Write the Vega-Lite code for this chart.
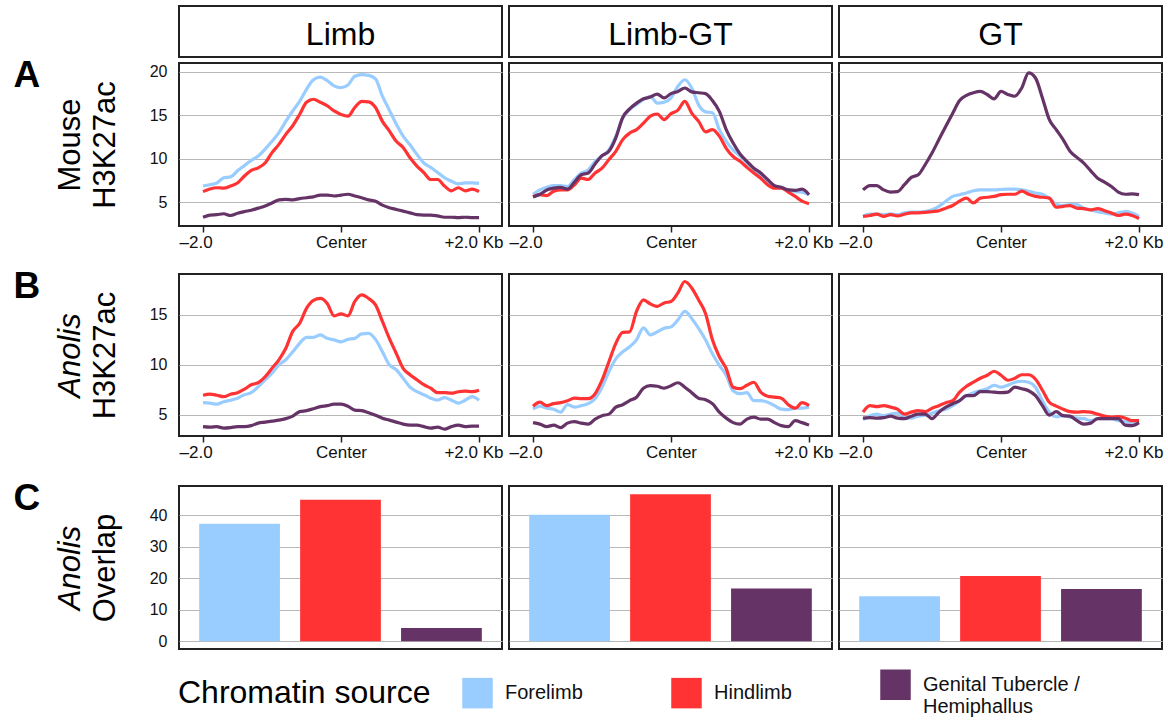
{
"$schema": "https://vega.github.io/schema/vega-lite/v6.json",
"padding": {"left": 12, "top": 5, "right": 5, "bottom": 5},
"columns": 3,
"align": "each",
"spacing": {"row": -2, "column": 3},
"config": {
  "font": "Liberation Sans",
  "view": {"stroke": "#222", "strokeWidth": 2},
  "axis": {"gridColor": "#b8b8b8", "gridWidth": 1.2, "labelColor": "#111", "titleColor": "#000", "titleFontWeight": "normal", "labelFontSize": 16},
  "text": {"color": "#000"}
},
"datasets": {
"bars": [
{"p":"Limb","s":"F","v":37.3},{"p":"Limb","s":"H","v":44.9},{"p":"Limb","s":"G","v":4.2},
{"p":"Limb-GT","s":"F","v":40.2},{"p":"Limb-GT","s":"H","v":46.7},{"p":"Limb-GT","s":"G","v":16.75},
{"p":"GT","s":"F","v":14.3},{"p":"GT","s":"H","v":20.7},{"p":"GT","s":"G","v":16.6}
],
"lines": [
{"p":"A1","s":"F","x":-2,"y":6.85},{"p":"A1","s":"F","x":-1.9,"y":7.0},{"p":"A1","s":"F","x":-1.8,"y":7.2},{"p":"A1","s":"F","x":-1.7,"y":7.8},{"p":"A1","s":"F","x":-1.6,"y":7.9},{"p":"A1","s":"F","x":-1.5,"y":8.6},{"p":"A1","s":"F","x":-1.4,"y":9.2},{"p":"A1","s":"F","x":-1.3,"y":9.8},{"p":"A1","s":"F","x":-1.2,"y":10.3},{"p":"A1","s":"F","x":-1.1,"y":11.1},{"p":"A1","s":"F","x":-1,"y":12.0},{"p":"A1","s":"F","x":-0.9,"y":13.0},{"p":"A1","s":"F","x":-0.8,"y":14.3},{"p":"A1","s":"F","x":-0.7,"y":15.5},{"p":"A1","s":"F","x":-0.6,"y":16.6},{"p":"A1","s":"F","x":-0.5,"y":18.0},{"p":"A1","s":"F","x":-0.4,"y":19.1},{"p":"A1","s":"F","x":-0.3,"y":19.4},{"p":"A1","s":"F","x":-0.2,"y":19.0},{"p":"A1","s":"F","x":-0.1,"y":18.4},{"p":"A1","s":"F","x":0,"y":18.2},{"p":"A1","s":"F","x":0.1,"y":18.5},{"p":"A1","s":"F","x":0.2,"y":19.5},{"p":"A1","s":"F","x":0.3,"y":19.7},{"p":"A1","s":"F","x":0.4,"y":19.6},{"p":"A1","s":"F","x":0.5,"y":19.2},{"p":"A1","s":"F","x":0.6,"y":17.2},{"p":"A1","s":"F","x":0.7,"y":15.6},{"p":"A1","s":"F","x":0.8,"y":14.0},{"p":"A1","s":"F","x":0.9,"y":12.6},{"p":"A1","s":"F","x":1,"y":11.6},{"p":"A1","s":"F","x":1.1,"y":10.5},{"p":"A1","s":"F","x":1.2,"y":9.5},{"p":"A1","s":"F","x":1.3,"y":9.0},{"p":"A1","s":"F","x":1.4,"y":8.4},{"p":"A1","s":"F","x":1.5,"y":7.8},{"p":"A1","s":"F","x":1.6,"y":7.4},{"p":"A1","s":"F","x":1.7,"y":7.1},{"p":"A1","s":"F","x":1.8,"y":7.2},{"p":"A1","s":"F","x":1.9,"y":7.2},{"p":"A1","s":"F","x":2,"y":7.15},
{"p":"A1","s":"H","x":-2,"y":6.2},{"p":"A1","s":"H","x":-1.9,"y":6.5},{"p":"A1","s":"H","x":-1.8,"y":6.65},{"p":"A1","s":"H","x":-1.7,"y":6.6},{"p":"A1","s":"H","x":-1.6,"y":6.85},{"p":"A1","s":"H","x":-1.5,"y":7.2},{"p":"A1","s":"H","x":-1.4,"y":8.0},{"p":"A1","s":"H","x":-1.3,"y":8.65},{"p":"A1","s":"H","x":-1.2,"y":8.95},{"p":"A1","s":"H","x":-1.1,"y":9.5},{"p":"A1","s":"H","x":-1,"y":10.7},{"p":"A1","s":"H","x":-0.9,"y":11.65},{"p":"A1","s":"H","x":-0.8,"y":12.8},{"p":"A1","s":"H","x":-0.7,"y":13.8},{"p":"A1","s":"H","x":-0.6,"y":15.1},{"p":"A1","s":"H","x":-0.5,"y":16.5},{"p":"A1","s":"H","x":-0.4,"y":16.85},{"p":"A1","s":"H","x":-0.3,"y":16.5},{"p":"A1","s":"H","x":-0.2,"y":16.1},{"p":"A1","s":"H","x":-0.1,"y":15.5},{"p":"A1","s":"H","x":0,"y":15.1},{"p":"A1","s":"H","x":0.1,"y":14.9},{"p":"A1","s":"H","x":0.2,"y":15.9},{"p":"A1","s":"H","x":0.3,"y":16.6},{"p":"A1","s":"H","x":0.4,"y":16.55},{"p":"A1","s":"H","x":0.5,"y":15.9},{"p":"A1","s":"H","x":0.6,"y":14.3},{"p":"A1","s":"H","x":0.7,"y":13.2},{"p":"A1","s":"H","x":0.8,"y":12.0},{"p":"A1","s":"H","x":0.9,"y":11.3},{"p":"A1","s":"H","x":1,"y":10.1},{"p":"A1","s":"H","x":1.1,"y":9.15},{"p":"A1","s":"H","x":1.2,"y":8.4},{"p":"A1","s":"H","x":1.3,"y":7.6},{"p":"A1","s":"H","x":1.4,"y":7.6},{"p":"A1","s":"H","x":1.5,"y":6.85},{"p":"A1","s":"H","x":1.6,"y":6.3},{"p":"A1","s":"H","x":1.7,"y":6.65},{"p":"A1","s":"H","x":1.8,"y":6.3},{"p":"A1","s":"H","x":1.9,"y":6.5},{"p":"A1","s":"H","x":2,"y":6.2},
{"p":"A1","s":"G","x":-2,"y":3.25},{"p":"A1","s":"G","x":-1.9,"y":3.5},{"p":"A1","s":"G","x":-1.8,"y":3.55},{"p":"A1","s":"G","x":-1.7,"y":3.65},{"p":"A1","s":"G","x":-1.6,"y":3.45},{"p":"A1","s":"G","x":-1.5,"y":3.7},{"p":"A1","s":"G","x":-1.4,"y":3.9},{"p":"A1","s":"G","x":-1.3,"y":4.05},{"p":"A1","s":"G","x":-1.2,"y":4.3},{"p":"A1","s":"G","x":-1.1,"y":4.55},{"p":"A1","s":"G","x":-1,"y":4.9},{"p":"A1","s":"G","x":-0.9,"y":5.25},{"p":"A1","s":"G","x":-0.8,"y":5.3},{"p":"A1","s":"G","x":-0.7,"y":5.25},{"p":"A1","s":"G","x":-0.6,"y":5.4},{"p":"A1","s":"G","x":-0.5,"y":5.5},{"p":"A1","s":"G","x":-0.4,"y":5.6},{"p":"A1","s":"G","x":-0.3,"y":5.8},{"p":"A1","s":"G","x":-0.2,"y":5.8},{"p":"A1","s":"G","x":-0.1,"y":5.7},{"p":"A1","s":"G","x":0,"y":5.8},{"p":"A1","s":"G","x":0.1,"y":5.9},{"p":"A1","s":"G","x":0.2,"y":5.7},{"p":"A1","s":"G","x":0.3,"y":5.5},{"p":"A1","s":"G","x":0.4,"y":5.25},{"p":"A1","s":"G","x":0.5,"y":5.1},{"p":"A1","s":"G","x":0.6,"y":4.65},{"p":"A1","s":"G","x":0.7,"y":4.35},{"p":"A1","s":"G","x":0.8,"y":4.15},{"p":"A1","s":"G","x":0.9,"y":3.95},{"p":"A1","s":"G","x":1,"y":3.75},{"p":"A1","s":"G","x":1.1,"y":3.55},{"p":"A1","s":"G","x":1.2,"y":3.5},{"p":"A1","s":"G","x":1.3,"y":3.5},{"p":"A1","s":"G","x":1.4,"y":3.4},{"p":"A1","s":"G","x":1.5,"y":3.25},{"p":"A1","s":"G","x":1.6,"y":3.25},{"p":"A1","s":"G","x":1.7,"y":3.2},{"p":"A1","s":"G","x":1.8,"y":3.25},{"p":"A1","s":"G","x":1.9,"y":3.2},{"p":"A1","s":"G","x":2,"y":3.2},
{"p":"A2","s":"F","x":-2,"y":5.9},{"p":"A2","s":"F","x":-1.9,"y":6.4},{"p":"A2","s":"F","x":-1.8,"y":6.7},{"p":"A2","s":"F","x":-1.7,"y":6.9},{"p":"A2","s":"F","x":-1.6,"y":6.9},{"p":"A2","s":"F","x":-1.5,"y":6.8},{"p":"A2","s":"F","x":-1.4,"y":7.6},{"p":"A2","s":"F","x":-1.3,"y":8.35},{"p":"A2","s":"F","x":-1.2,"y":8.7},{"p":"A2","s":"F","x":-1.1,"y":9.7},{"p":"A2","s":"F","x":-1,"y":10.3},{"p":"A2","s":"F","x":-0.9,"y":11.0},{"p":"A2","s":"F","x":-0.8,"y":12.6},{"p":"A2","s":"F","x":-0.7,"y":14.7},{"p":"A2","s":"F","x":-0.6,"y":15.65},{"p":"A2","s":"F","x":-0.5,"y":16.25},{"p":"A2","s":"F","x":-0.4,"y":16.8},{"p":"A2","s":"F","x":-0.3,"y":17.2},{"p":"A2","s":"F","x":-0.2,"y":16.4},{"p":"A2","s":"F","x":-0.1,"y":16.5},{"p":"A2","s":"F","x":0,"y":17.0},{"p":"A2","s":"F","x":0.1,"y":18.35},{"p":"A2","s":"F","x":0.2,"y":19.1},{"p":"A2","s":"F","x":0.3,"y":18.15},{"p":"A2","s":"F","x":0.4,"y":16.2},{"p":"A2","s":"F","x":0.5,"y":15.4},{"p":"A2","s":"F","x":0.6,"y":15.3},{"p":"A2","s":"F","x":0.7,"y":13.35},{"p":"A2","s":"F","x":0.8,"y":12.0},{"p":"A2","s":"F","x":0.9,"y":11.0},{"p":"A2","s":"F","x":1,"y":10.3},{"p":"A2","s":"F","x":1.1,"y":9.5},{"p":"A2","s":"F","x":1.2,"y":8.7},{"p":"A2","s":"F","x":1.3,"y":8.0},{"p":"A2","s":"F","x":1.4,"y":7.3},{"p":"A2","s":"F","x":1.5,"y":6.8},{"p":"A2","s":"F","x":1.6,"y":6.6},{"p":"A2","s":"F","x":1.7,"y":6.4},{"p":"A2","s":"F","x":1.8,"y":6.2},{"p":"A2","s":"F","x":1.9,"y":6.15},{"p":"A2","s":"F","x":2,"y":5.85},
{"p":"A2","s":"H","x":-2,"y":5.6},{"p":"A2","s":"H","x":-1.9,"y":5.85},{"p":"A2","s":"H","x":-1.8,"y":5.75},{"p":"A2","s":"H","x":-1.7,"y":6.25},{"p":"A2","s":"H","x":-1.6,"y":6.4},{"p":"A2","s":"H","x":-1.5,"y":6.4},{"p":"A2","s":"H","x":-1.4,"y":7.0},{"p":"A2","s":"H","x":-1.3,"y":7.75},{"p":"A2","s":"H","x":-1.2,"y":7.6},{"p":"A2","s":"H","x":-1.1,"y":8.35},{"p":"A2","s":"H","x":-1,"y":8.9},{"p":"A2","s":"H","x":-0.9,"y":9.9},{"p":"A2","s":"H","x":-0.8,"y":10.85},{"p":"A2","s":"H","x":-0.7,"y":12.2},{"p":"A2","s":"H","x":-0.6,"y":12.95},{"p":"A2","s":"H","x":-0.5,"y":13.35},{"p":"A2","s":"H","x":-0.4,"y":14.1},{"p":"A2","s":"H","x":-0.3,"y":14.9},{"p":"A2","s":"H","x":-0.2,"y":15.15},{"p":"A2","s":"H","x":-0.1,"y":14.5},{"p":"A2","s":"H","x":0,"y":15.2},{"p":"A2","s":"H","x":0.1,"y":15.6},{"p":"A2","s":"H","x":0.2,"y":16.6},{"p":"A2","s":"H","x":0.3,"y":15.25},{"p":"A2","s":"H","x":0.4,"y":14.3},{"p":"A2","s":"H","x":0.5,"y":13.1},{"p":"A2","s":"H","x":0.6,"y":13.35},{"p":"A2","s":"H","x":0.7,"y":12.6},{"p":"A2","s":"H","x":0.8,"y":11.2},{"p":"A2","s":"H","x":0.9,"y":10.25},{"p":"A2","s":"H","x":1,"y":9.7},{"p":"A2","s":"H","x":1.1,"y":9.0},{"p":"A2","s":"H","x":1.2,"y":8.35},{"p":"A2","s":"H","x":1.3,"y":7.75},{"p":"A2","s":"H","x":1.4,"y":7.0},{"p":"A2","s":"H","x":1.5,"y":6.6},{"p":"A2","s":"H","x":1.6,"y":6.6},{"p":"A2","s":"H","x":1.7,"y":6.15},{"p":"A2","s":"H","x":1.8,"y":5.65},{"p":"A2","s":"H","x":1.9,"y":5.1},{"p":"A2","s":"H","x":2,"y":4.8},
{"p":"A2","s":"G","x":-2,"y":5.6},{"p":"A2","s":"G","x":-1.9,"y":5.9},{"p":"A2","s":"G","x":-1.8,"y":6.4},{"p":"A2","s":"G","x":-1.7,"y":6.6},{"p":"A2","s":"G","x":-1.6,"y":6.7},{"p":"A2","s":"G","x":-1.5,"y":6.5},{"p":"A2","s":"G","x":-1.4,"y":7.3},{"p":"A2","s":"G","x":-1.3,"y":8.15},{"p":"A2","s":"G","x":-1.2,"y":8.35},{"p":"A2","s":"G","x":-1.1,"y":9.4},{"p":"A2","s":"G","x":-1,"y":10.35},{"p":"A2","s":"G","x":-0.9,"y":10.85},{"p":"A2","s":"G","x":-0.8,"y":12.4},{"p":"A2","s":"G","x":-0.7,"y":14.75},{"p":"A2","s":"G","x":-0.6,"y":15.75},{"p":"A2","s":"G","x":-0.5,"y":16.4},{"p":"A2","s":"G","x":-0.4,"y":16.9},{"p":"A2","s":"G","x":-0.3,"y":17.1},{"p":"A2","s":"G","x":-0.2,"y":17.45},{"p":"A2","s":"G","x":-0.1,"y":17.0},{"p":"A2","s":"G","x":0,"y":17.5},{"p":"A2","s":"G","x":0.1,"y":17.75},{"p":"A2","s":"G","x":0.2,"y":18.15},{"p":"A2","s":"G","x":0.3,"y":17.7},{"p":"A2","s":"G","x":0.4,"y":17.6},{"p":"A2","s":"G","x":0.5,"y":17.5},{"p":"A2","s":"G","x":0.6,"y":16.7},{"p":"A2","s":"G","x":0.7,"y":15.45},{"p":"A2","s":"G","x":0.8,"y":13.35},{"p":"A2","s":"G","x":0.9,"y":11.8},{"p":"A2","s":"G","x":1,"y":10.55},{"p":"A2","s":"G","x":1.1,"y":9.7},{"p":"A2","s":"G","x":1.2,"y":8.9},{"p":"A2","s":"G","x":1.3,"y":8.35},{"p":"A2","s":"G","x":1.4,"y":7.6},{"p":"A2","s":"G","x":1.5,"y":6.9},{"p":"A2","s":"G","x":1.6,"y":6.7},{"p":"A2","s":"G","x":1.7,"y":6.4},{"p":"A2","s":"G","x":1.8,"y":6.35},{"p":"A2","s":"G","x":1.9,"y":6.5},{"p":"A2","s":"G","x":2,"y":5.85},
{"p":"A3","s":"F","x":-2,"y":3.35},{"p":"A3","s":"F","x":-1.9,"y":3.6},{"p":"A3","s":"F","x":-1.8,"y":3.6},{"p":"A3","s":"F","x":-1.7,"y":3.55},{"p":"A3","s":"F","x":-1.6,"y":3.65},{"p":"A3","s":"F","x":-1.5,"y":3.55},{"p":"A3","s":"F","x":-1.4,"y":3.75},{"p":"A3","s":"F","x":-1.3,"y":3.85},{"p":"A3","s":"F","x":-1.2,"y":3.85},{"p":"A3","s":"F","x":-1.1,"y":3.9},{"p":"A3","s":"F","x":-1,"y":4.1},{"p":"A3","s":"F","x":-0.9,"y":4.5},{"p":"A3","s":"F","x":-0.8,"y":5.1},{"p":"A3","s":"F","x":-0.7,"y":5.65},{"p":"A3","s":"F","x":-0.6,"y":5.85},{"p":"A3","s":"F","x":-0.5,"y":6.05},{"p":"A3","s":"F","x":-0.4,"y":6.3},{"p":"A3","s":"F","x":-0.3,"y":6.4},{"p":"A3","s":"F","x":-0.2,"y":6.4},{"p":"A3","s":"F","x":-0.1,"y":6.4},{"p":"A3","s":"F","x":0,"y":6.45},{"p":"A3","s":"F","x":0.1,"y":6.5},{"p":"A3","s":"F","x":0.2,"y":6.5},{"p":"A3","s":"F","x":0.3,"y":6.4},{"p":"A3","s":"F","x":0.4,"y":6.25},{"p":"A3","s":"F","x":0.5,"y":6.05},{"p":"A3","s":"F","x":0.6,"y":5.9},{"p":"A3","s":"F","x":0.7,"y":5.45},{"p":"A3","s":"F","x":0.8,"y":4.75},{"p":"A3","s":"F","x":0.9,"y":4.6},{"p":"A3","s":"F","x":1,"y":4.7},{"p":"A3","s":"F","x":1.1,"y":4.7},{"p":"A3","s":"F","x":1.2,"y":4.3},{"p":"A3","s":"F","x":1.3,"y":4.1},{"p":"A3","s":"F","x":1.4,"y":3.9},{"p":"A3","s":"F","x":1.5,"y":3.75},{"p":"A3","s":"F","x":1.6,"y":3.6},{"p":"A3","s":"F","x":1.7,"y":3.75},{"p":"A3","s":"F","x":1.8,"y":3.9},{"p":"A3","s":"F","x":1.9,"y":3.75},{"p":"A3","s":"F","x":2,"y":3.35},
{"p":"A3","s":"H","x":-2,"y":3.35},{"p":"A3","s":"H","x":-1.9,"y":3.45},{"p":"A3","s":"H","x":-1.8,"y":3.6},{"p":"A3","s":"H","x":-1.7,"y":3.35},{"p":"A3","s":"H","x":-1.6,"y":3.55},{"p":"A3","s":"H","x":-1.5,"y":3.4},{"p":"A3","s":"H","x":-1.4,"y":3.6},{"p":"A3","s":"H","x":-1.3,"y":3.75},{"p":"A3","s":"H","x":-1.2,"y":3.75},{"p":"A3","s":"H","x":-1.1,"y":3.8},{"p":"A3","s":"H","x":-1,"y":3.9},{"p":"A3","s":"H","x":-0.9,"y":4.0},{"p":"A3","s":"H","x":-0.8,"y":4.3},{"p":"A3","s":"H","x":-0.7,"y":4.6},{"p":"A3","s":"H","x":-0.6,"y":5.1},{"p":"A3","s":"H","x":-0.5,"y":5.45},{"p":"A3","s":"H","x":-0.4,"y":4.9},{"p":"A3","s":"H","x":-0.3,"y":5.45},{"p":"A3","s":"H","x":-0.2,"y":5.55},{"p":"A3","s":"H","x":-0.1,"y":5.65},{"p":"A3","s":"H","x":0,"y":5.85},{"p":"A3","s":"H","x":0.1,"y":5.9},{"p":"A3","s":"H","x":0.2,"y":5.9},{"p":"A3","s":"H","x":0.3,"y":6.25},{"p":"A3","s":"H","x":0.4,"y":5.9},{"p":"A3","s":"H","x":0.5,"y":5.65},{"p":"A3","s":"H","x":0.6,"y":5.55},{"p":"A3","s":"H","x":0.7,"y":5.45},{"p":"A3","s":"H","x":0.8,"y":4.4},{"p":"A3","s":"H","x":0.9,"y":4.5},{"p":"A3","s":"H","x":1,"y":4.6},{"p":"A3","s":"H","x":1.1,"y":4.3},{"p":"A3","s":"H","x":1.2,"y":4.25},{"p":"A3","s":"H","x":1.3,"y":4.1},{"p":"A3","s":"H","x":1.4,"y":4.25},{"p":"A3","s":"H","x":1.5,"y":4.0},{"p":"A3","s":"H","x":1.6,"y":3.75},{"p":"A3","s":"H","x":1.7,"y":3.45},{"p":"A3","s":"H","x":1.8,"y":3.6},{"p":"A3","s":"H","x":1.9,"y":3.45},{"p":"A3","s":"H","x":2,"y":3.1},
{"p":"A3","s":"G","x":-2,"y":6.4},{"p":"A3","s":"G","x":-1.9,"y":6.9},{"p":"A3","s":"G","x":-1.8,"y":6.9},{"p":"A3","s":"G","x":-1.7,"y":6.4},{"p":"A3","s":"G","x":-1.6,"y":6.15},{"p":"A3","s":"G","x":-1.5,"y":6.2},{"p":"A3","s":"G","x":-1.4,"y":7.0},{"p":"A3","s":"G","x":-1.3,"y":7.85},{"p":"A3","s":"G","x":-1.2,"y":8.15},{"p":"A3","s":"G","x":-1.1,"y":9.3},{"p":"A3","s":"G","x":-1,"y":10.65},{"p":"A3","s":"G","x":-0.9,"y":12.2},{"p":"A3","s":"G","x":-0.8,"y":13.75},{"p":"A3","s":"G","x":-0.7,"y":15.25},{"p":"A3","s":"G","x":-0.6,"y":16.7},{"p":"A3","s":"G","x":-0.5,"y":17.3},{"p":"A3","s":"G","x":-0.4,"y":17.6},{"p":"A3","s":"G","x":-0.3,"y":17.75},{"p":"A3","s":"G","x":-0.2,"y":17.4},{"p":"A3","s":"G","x":-0.1,"y":16.9},{"p":"A3","s":"G","x":0,"y":17.75},{"p":"A3","s":"G","x":0.1,"y":17.4},{"p":"A3","s":"G","x":0.2,"y":17.2},{"p":"A3","s":"G","x":0.3,"y":18.15},{"p":"A3","s":"G","x":0.4,"y":19.9},{"p":"A3","s":"G","x":0.5,"y":19.3},{"p":"A3","s":"G","x":0.6,"y":17.0},{"p":"A3","s":"G","x":0.7,"y":14.5},{"p":"A3","s":"G","x":0.8,"y":13.35},{"p":"A3","s":"G","x":0.9,"y":12.2},{"p":"A3","s":"G","x":1,"y":10.85},{"p":"A3","s":"G","x":1.1,"y":10.15},{"p":"A3","s":"G","x":1.2,"y":9.5},{"p":"A3","s":"G","x":1.3,"y":8.6},{"p":"A3","s":"G","x":1.4,"y":7.75},{"p":"A3","s":"G","x":1.5,"y":7.3},{"p":"A3","s":"G","x":1.6,"y":6.8},{"p":"A3","s":"G","x":1.7,"y":6.15},{"p":"A3","s":"G","x":1.8,"y":5.9},{"p":"A3","s":"G","x":1.9,"y":5.95},{"p":"A3","s":"G","x":2,"y":5.85},
{"p":"B1","s":"F","x":-2,"y":6.2},{"p":"B1","s":"F","x":-1.9,"y":6.15},{"p":"B1","s":"F","x":-1.8,"y":6.05},{"p":"B1","s":"F","x":-1.7,"y":6.3},{"p":"B1","s":"F","x":-1.6,"y":6.45},{"p":"B1","s":"F","x":-1.5,"y":6.65},{"p":"B1","s":"F","x":-1.4,"y":7.0},{"p":"B1","s":"F","x":-1.3,"y":7.2},{"p":"B1","s":"F","x":-1.2,"y":7.8},{"p":"B1","s":"F","x":-1.1,"y":8.5},{"p":"B1","s":"F","x":-1,"y":9.15},{"p":"B1","s":"F","x":-0.9,"y":10.0},{"p":"B1","s":"F","x":-0.8,"y":10.5},{"p":"B1","s":"F","x":-0.7,"y":11.3},{"p":"B1","s":"F","x":-0.6,"y":12.15},{"p":"B1","s":"F","x":-0.5,"y":12.75},{"p":"B1","s":"F","x":-0.4,"y":12.75},{"p":"B1","s":"F","x":-0.3,"y":13.0},{"p":"B1","s":"F","x":-0.2,"y":12.65},{"p":"B1","s":"F","x":-0.1,"y":12.5},{"p":"B1","s":"F","x":0,"y":12.3},{"p":"B1","s":"F","x":0.1,"y":12.55},{"p":"B1","s":"F","x":0.2,"y":12.65},{"p":"B1","s":"F","x":0.3,"y":13.1},{"p":"B1","s":"F","x":0.4,"y":13.15},{"p":"B1","s":"F","x":0.5,"y":12.55},{"p":"B1","s":"F","x":0.6,"y":11.3},{"p":"B1","s":"F","x":0.7,"y":10.0},{"p":"B1","s":"F","x":0.8,"y":9.5},{"p":"B1","s":"F","x":0.9,"y":8.65},{"p":"B1","s":"F","x":1,"y":7.75},{"p":"B1","s":"F","x":1.1,"y":7.3},{"p":"B1","s":"F","x":1.2,"y":7.0},{"p":"B1","s":"F","x":1.3,"y":6.65},{"p":"B1","s":"F","x":1.4,"y":6.45},{"p":"B1","s":"F","x":1.5,"y":6.7},{"p":"B1","s":"F","x":1.6,"y":6.45},{"p":"B1","s":"F","x":1.7,"y":6.15},{"p":"B1","s":"F","x":1.8,"y":6.45},{"p":"B1","s":"F","x":1.9,"y":6.8},{"p":"B1","s":"F","x":2,"y":6.45},
{"p":"B1","s":"H","x":-2,"y":6.95},{"p":"B1","s":"H","x":-1.9,"y":7.05},{"p":"B1","s":"H","x":-1.8,"y":6.95},{"p":"B1","s":"H","x":-1.7,"y":6.8},{"p":"B1","s":"H","x":-1.6,"y":7.05},{"p":"B1","s":"H","x":-1.5,"y":7.2},{"p":"B1","s":"H","x":-1.4,"y":7.55},{"p":"B1","s":"H","x":-1.3,"y":8.0},{"p":"B1","s":"H","x":-1.2,"y":8.2},{"p":"B1","s":"H","x":-1.1,"y":8.8},{"p":"B1","s":"H","x":-1,"y":9.65},{"p":"B1","s":"H","x":-0.9,"y":10.5},{"p":"B1","s":"H","x":-0.8,"y":11.65},{"p":"B1","s":"H","x":-0.7,"y":13.35},{"p":"B1","s":"H","x":-0.6,"y":14.15},{"p":"B1","s":"H","x":-0.5,"y":15.65},{"p":"B1","s":"H","x":-0.4,"y":16.45},{"p":"B1","s":"H","x":-0.3,"y":16.65},{"p":"B1","s":"H","x":-0.2,"y":16.15},{"p":"B1","s":"H","x":-0.1,"y":14.9},{"p":"B1","s":"H","x":0,"y":15.1},{"p":"B1","s":"H","x":0.1,"y":14.9},{"p":"B1","s":"H","x":0.2,"y":16.35},{"p":"B1","s":"H","x":0.3,"y":17.0},{"p":"B1","s":"H","x":0.4,"y":16.65},{"p":"B1","s":"H","x":0.5,"y":16.0},{"p":"B1","s":"H","x":0.6,"y":14.35},{"p":"B1","s":"H","x":0.7,"y":12.65},{"p":"B1","s":"H","x":0.8,"y":11.15},{"p":"B1","s":"H","x":0.9,"y":9.65},{"p":"B1","s":"H","x":1,"y":9.0},{"p":"B1","s":"H","x":1.1,"y":8.5},{"p":"B1","s":"H","x":1.2,"y":8.0},{"p":"B1","s":"H","x":1.3,"y":7.65},{"p":"B1","s":"H","x":1.4,"y":7.2},{"p":"B1","s":"H","x":1.5,"y":7.2},{"p":"B1","s":"H","x":1.6,"y":7.15},{"p":"B1","s":"H","x":1.7,"y":7.3},{"p":"B1","s":"H","x":1.8,"y":7.35},{"p":"B1","s":"H","x":1.9,"y":7.3},{"p":"B1","s":"H","x":2,"y":7.45},
{"p":"B1","s":"G","x":-2,"y":3.8},{"p":"B1","s":"G","x":-1.9,"y":3.75},{"p":"B1","s":"G","x":-1.8,"y":3.8},{"p":"B1","s":"G","x":-1.7,"y":3.65},{"p":"B1","s":"G","x":-1.6,"y":3.7},{"p":"B1","s":"G","x":-1.5,"y":3.8},{"p":"B1","s":"G","x":-1.4,"y":3.8},{"p":"B1","s":"G","x":-1.3,"y":3.9},{"p":"B1","s":"G","x":-1.2,"y":4.15},{"p":"B1","s":"G","x":-1.1,"y":4.25},{"p":"B1","s":"G","x":-1,"y":4.35},{"p":"B1","s":"G","x":-0.9,"y":4.45},{"p":"B1","s":"G","x":-0.8,"y":4.6},{"p":"B1","s":"G","x":-0.7,"y":4.85},{"p":"B1","s":"G","x":-0.6,"y":5.3},{"p":"B1","s":"G","x":-0.5,"y":5.4},{"p":"B1","s":"G","x":-0.4,"y":5.6},{"p":"B1","s":"G","x":-0.3,"y":5.8},{"p":"B1","s":"G","x":-0.2,"y":5.9},{"p":"B1","s":"G","x":-0.1,"y":6.05},{"p":"B1","s":"G","x":0,"y":6.05},{"p":"B1","s":"G","x":0.1,"y":5.85},{"p":"B1","s":"G","x":0.2,"y":5.45},{"p":"B1","s":"G","x":0.3,"y":5.4},{"p":"B1","s":"G","x":0.4,"y":5.2},{"p":"B1","s":"G","x":0.5,"y":4.95},{"p":"B1","s":"G","x":0.6,"y":4.65},{"p":"B1","s":"G","x":0.7,"y":4.45},{"p":"B1","s":"G","x":0.8,"y":4.25},{"p":"B1","s":"G","x":0.9,"y":4.05},{"p":"B1","s":"G","x":1,"y":3.95},{"p":"B1","s":"G","x":1.1,"y":3.95},{"p":"B1","s":"G","x":1.2,"y":3.8},{"p":"B1","s":"G","x":1.3,"y":3.65},{"p":"B1","s":"G","x":1.4,"y":3.75},{"p":"B1","s":"G","x":1.5,"y":3.55},{"p":"B1","s":"G","x":1.6,"y":3.8},{"p":"B1","s":"G","x":1.7,"y":3.95},{"p":"B1","s":"G","x":1.8,"y":3.8},{"p":"B1","s":"G","x":1.9,"y":3.85},{"p":"B1","s":"G","x":2,"y":3.85},
{"p":"B2","s":"F","x":-2,"y":5.55},{"p":"B2","s":"F","x":-1.9,"y":5.85},{"p":"B2","s":"F","x":-1.8,"y":5.65},{"p":"B2","s":"F","x":-1.7,"y":5.55},{"p":"B2","s":"F","x":-1.6,"y":5.25},{"p":"B2","s":"F","x":-1.5,"y":6.0},{"p":"B2","s":"F","x":-1.4,"y":5.75},{"p":"B2","s":"F","x":-1.3,"y":5.9},{"p":"B2","s":"F","x":-1.2,"y":6.1},{"p":"B2","s":"F","x":-1.1,"y":6.6},{"p":"B2","s":"F","x":-1,"y":7.75},{"p":"B2","s":"F","x":-0.9,"y":9.3},{"p":"B2","s":"F","x":-0.8,"y":10.6},{"p":"B2","s":"F","x":-0.7,"y":11.3},{"p":"B2","s":"F","x":-0.6,"y":11.8},{"p":"B2","s":"F","x":-0.5,"y":12.5},{"p":"B2","s":"F","x":-0.4,"y":13.7},{"p":"B2","s":"F","x":-0.3,"y":13.0},{"p":"B2","s":"F","x":-0.2,"y":13.3},{"p":"B2","s":"F","x":-0.1,"y":13.65},{"p":"B2","s":"F","x":0,"y":13.8},{"p":"B2","s":"F","x":0.1,"y":14.5},{"p":"B2","s":"F","x":0.2,"y":15.35},{"p":"B2","s":"F","x":0.3,"y":14.65},{"p":"B2","s":"F","x":0.4,"y":13.65},{"p":"B2","s":"F","x":0.5,"y":12.5},{"p":"B2","s":"F","x":0.6,"y":11.1},{"p":"B2","s":"F","x":0.7,"y":9.95},{"p":"B2","s":"F","x":0.8,"y":8.95},{"p":"B2","s":"F","x":0.9,"y":7.4},{"p":"B2","s":"F","x":1,"y":7.1},{"p":"B2","s":"F","x":1.1,"y":7.2},{"p":"B2","s":"F","x":1.2,"y":6.4},{"p":"B2","s":"F","x":1.3,"y":6.4},{"p":"B2","s":"F","x":1.4,"y":6.25},{"p":"B2","s":"F","x":1.5,"y":5.9},{"p":"B2","s":"F","x":1.6,"y":5.55},{"p":"B2","s":"F","x":1.7,"y":5.5},{"p":"B2","s":"F","x":1.8,"y":5.65},{"p":"B2","s":"F","x":1.9,"y":5.65},{"p":"B2","s":"F","x":2,"y":5.75},
{"p":"B2","s":"H","x":-2,"y":5.85},{"p":"B2","s":"H","x":-1.9,"y":6.25},{"p":"B2","s":"H","x":-1.8,"y":5.9},{"p":"B2","s":"H","x":-1.7,"y":6.1},{"p":"B2","s":"H","x":-1.6,"y":6.2},{"p":"B2","s":"H","x":-1.5,"y":6.4},{"p":"B2","s":"H","x":-1.4,"y":6.65},{"p":"B2","s":"H","x":-1.3,"y":6.6},{"p":"B2","s":"H","x":-1.2,"y":6.6},{"p":"B2","s":"H","x":-1.1,"y":7.1},{"p":"B2","s":"H","x":-1,"y":8.45},{"p":"B2","s":"H","x":-0.9,"y":10.3},{"p":"B2","s":"H","x":-0.8,"y":12.15},{"p":"B2","s":"H","x":-0.7,"y":13.25},{"p":"B2","s":"H","x":-0.6,"y":13.3},{"p":"B2","s":"H","x":-0.5,"y":15.35},{"p":"B2","s":"H","x":-0.4,"y":16.5},{"p":"B2","s":"H","x":-0.3,"y":16.1},{"p":"B2","s":"H","x":-0.2,"y":15.85},{"p":"B2","s":"H","x":-0.1,"y":16.2},{"p":"B2","s":"H","x":0,"y":16.35},{"p":"B2","s":"H","x":0.1,"y":17.2},{"p":"B2","s":"H","x":0.2,"y":18.35},{"p":"B2","s":"H","x":0.3,"y":17.7},{"p":"B2","s":"H","x":0.4,"y":16.5},{"p":"B2","s":"H","x":0.5,"y":15.15},{"p":"B2","s":"H","x":0.6,"y":12.5},{"p":"B2","s":"H","x":0.7,"y":10.8},{"p":"B2","s":"H","x":0.8,"y":9.6},{"p":"B2","s":"H","x":0.9,"y":7.75},{"p":"B2","s":"H","x":1,"y":7.6},{"p":"B2","s":"H","x":1.1,"y":7.95},{"p":"B2","s":"H","x":1.2,"y":8.25},{"p":"B2","s":"H","x":1.3,"y":7.25},{"p":"B2","s":"H","x":1.4,"y":6.85},{"p":"B2","s":"H","x":1.5,"y":6.75},{"p":"B2","s":"H","x":1.6,"y":6.65},{"p":"B2","s":"H","x":1.7,"y":6.0},{"p":"B2","s":"H","x":1.8,"y":5.65},{"p":"B2","s":"H","x":1.9,"y":6.2},{"p":"B2","s":"H","x":2,"y":5.9},
{"p":"B2","s":"G","x":-2,"y":4.2},{"p":"B2","s":"G","x":-1.9,"y":4.05},{"p":"B2","s":"G","x":-1.8,"y":3.8},{"p":"B2","s":"G","x":-1.7,"y":3.95},{"p":"B2","s":"G","x":-1.6,"y":3.7},{"p":"B2","s":"G","x":-1.5,"y":4.15},{"p":"B2","s":"G","x":-1.4,"y":4.3},{"p":"B2","s":"G","x":-1.3,"y":4.15},{"p":"B2","s":"G","x":-1.2,"y":4.05},{"p":"B2","s":"G","x":-1.1,"y":4.55},{"p":"B2","s":"G","x":-1,"y":4.9},{"p":"B2","s":"G","x":-0.9,"y":5.05},{"p":"B2","s":"G","x":-0.8,"y":5.75},{"p":"B2","s":"G","x":-0.7,"y":6.0},{"p":"B2","s":"G","x":-0.6,"y":6.4},{"p":"B2","s":"G","x":-0.5,"y":6.75},{"p":"B2","s":"G","x":-0.4,"y":7.65},{"p":"B2","s":"G","x":-0.3,"y":7.9},{"p":"B2","s":"G","x":-0.2,"y":7.85},{"p":"B2","s":"G","x":-0.1,"y":7.65},{"p":"B2","s":"G","x":0,"y":7.9},{"p":"B2","s":"G","x":0.1,"y":8.2},{"p":"B2","s":"G","x":0.2,"y":7.75},{"p":"B2","s":"G","x":0.3,"y":7.2},{"p":"B2","s":"G","x":0.4,"y":6.65},{"p":"B2","s":"G","x":0.5,"y":6.5},{"p":"B2","s":"G","x":0.6,"y":6.1},{"p":"B2","s":"G","x":0.7,"y":5.25},{"p":"B2","s":"G","x":0.8,"y":4.65},{"p":"B2","s":"G","x":0.9,"y":4.2},{"p":"B2","s":"G","x":1,"y":4.05},{"p":"B2","s":"G","x":1.1,"y":4.55},{"p":"B2","s":"G","x":1.2,"y":4.75},{"p":"B2","s":"G","x":1.3,"y":4.55},{"p":"B2","s":"G","x":1.4,"y":4.55},{"p":"B2","s":"G","x":1.5,"y":4.2},{"p":"B2","s":"G","x":1.6,"y":3.9},{"p":"B2","s":"G","x":1.7,"y":3.8},{"p":"B2","s":"G","x":1.8,"y":4.4},{"p":"B2","s":"G","x":1.9,"y":4.2},{"p":"B2","s":"G","x":2,"y":3.95},
{"p":"B3","s":"F","x":-2,"y":4.5},{"p":"B3","s":"F","x":-1.9,"y":4.9},{"p":"B3","s":"F","x":-1.8,"y":5.05},{"p":"B3","s":"F","x":-1.7,"y":4.9},{"p":"B3","s":"F","x":-1.6,"y":5.05},{"p":"B3","s":"F","x":-1.5,"y":5.15},{"p":"B3","s":"F","x":-1.4,"y":4.75},{"p":"B3","s":"F","x":-1.3,"y":4.65},{"p":"B3","s":"F","x":-1.2,"y":4.85},{"p":"B3","s":"F","x":-1.1,"y":4.95},{"p":"B3","s":"F","x":-1,"y":5.15},{"p":"B3","s":"F","x":-0.9,"y":5.4},{"p":"B3","s":"F","x":-0.8,"y":5.55},{"p":"B3","s":"F","x":-0.7,"y":5.9},{"p":"B3","s":"F","x":-0.6,"y":6.4},{"p":"B3","s":"F","x":-0.5,"y":6.9},{"p":"B3","s":"F","x":-0.4,"y":7.2},{"p":"B3","s":"F","x":-0.3,"y":7.4},{"p":"B3","s":"F","x":-0.2,"y":7.6},{"p":"B3","s":"F","x":-0.1,"y":7.95},{"p":"B3","s":"F","x":0,"y":7.75},{"p":"B3","s":"F","x":0.1,"y":7.95},{"p":"B3","s":"F","x":0.2,"y":8.25},{"p":"B3","s":"F","x":0.3,"y":8.35},{"p":"B3","s":"F","x":0.4,"y":8.25},{"p":"B3","s":"F","x":0.5,"y":7.75},{"p":"B3","s":"F","x":0.6,"y":6.4},{"p":"B3","s":"F","x":0.7,"y":5.25},{"p":"B3","s":"F","x":0.8,"y":4.8},{"p":"B3","s":"F","x":0.9,"y":4.9},{"p":"B3","s":"F","x":1,"y":4.75},{"p":"B3","s":"F","x":1.1,"y":4.65},{"p":"B3","s":"F","x":1.2,"y":4.6},{"p":"B3","s":"F","x":1.3,"y":4.4},{"p":"B3","s":"F","x":1.4,"y":4.6},{"p":"B3","s":"F","x":1.5,"y":4.6},{"p":"B3","s":"F","x":1.6,"y":4.6},{"p":"B3","s":"F","x":1.7,"y":4.4},{"p":"B3","s":"F","x":1.8,"y":4.3},{"p":"B3","s":"F","x":1.9,"y":4.25},{"p":"B3","s":"F","x":2,"y":4.4},
{"p":"B3","s":"H","x":-2,"y":5.25},{"p":"B3","s":"H","x":-1.9,"y":5.9},{"p":"B3","s":"H","x":-1.8,"y":5.8},{"p":"B3","s":"H","x":-1.7,"y":5.9},{"p":"B3","s":"H","x":-1.6,"y":5.75},{"p":"B3","s":"H","x":-1.5,"y":5.55},{"p":"B3","s":"H","x":-1.4,"y":5.05},{"p":"B3","s":"H","x":-1.3,"y":5.25},{"p":"B3","s":"H","x":-1.2,"y":5.4},{"p":"B3","s":"H","x":-1.1,"y":5.3},{"p":"B3","s":"H","x":-1,"y":5.65},{"p":"B3","s":"H","x":-0.9,"y":5.9},{"p":"B3","s":"H","x":-0.8,"y":6.2},{"p":"B3","s":"H","x":-0.7,"y":6.4},{"p":"B3","s":"H","x":-0.6,"y":7.25},{"p":"B3","s":"H","x":-0.5,"y":7.85},{"p":"B3","s":"H","x":-0.4,"y":8.25},{"p":"B3","s":"H","x":-0.3,"y":8.65},{"p":"B3","s":"H","x":-0.2,"y":8.95},{"p":"B3","s":"H","x":-0.1,"y":9.35},{"p":"B3","s":"H","x":0,"y":8.95},{"p":"B3","s":"H","x":0.1,"y":8.45},{"p":"B3","s":"H","x":0.2,"y":8.65},{"p":"B3","s":"H","x":0.3,"y":9.0},{"p":"B3","s":"H","x":0.4,"y":9.0},{"p":"B3","s":"H","x":0.5,"y":8.55},{"p":"B3","s":"H","x":0.6,"y":7.45},{"p":"B3","s":"H","x":0.7,"y":6.25},{"p":"B3","s":"H","x":0.8,"y":5.85},{"p":"B3","s":"H","x":0.9,"y":5.55},{"p":"B3","s":"H","x":1,"y":5.3},{"p":"B3","s":"H","x":1.1,"y":5.25},{"p":"B3","s":"H","x":1.2,"y":5.3},{"p":"B3","s":"H","x":1.3,"y":5.25},{"p":"B3","s":"H","x":1.4,"y":5.05},{"p":"B3","s":"H","x":1.5,"y":4.85},{"p":"B3","s":"H","x":1.6,"y":4.75},{"p":"B3","s":"H","x":1.7,"y":4.8},{"p":"B3","s":"H","x":1.8,"y":4.65},{"p":"B3","s":"H","x":1.9,"y":4.4},{"p":"B3","s":"H","x":2,"y":4.4},
{"p":"B3","s":"G","x":-2,"y":4.65},{"p":"B3","s":"G","x":-1.9,"y":4.7},{"p":"B3","s":"G","x":-1.8,"y":4.65},{"p":"B3","s":"G","x":-1.7,"y":4.7},{"p":"B3","s":"G","x":-1.6,"y":4.85},{"p":"B3","s":"G","x":-1.5,"y":4.65},{"p":"B3","s":"G","x":-1.4,"y":4.6},{"p":"B3","s":"G","x":-1.3,"y":4.85},{"p":"B3","s":"G","x":-1.2,"y":5.05},{"p":"B3","s":"G","x":-1.1,"y":5.05},{"p":"B3","s":"G","x":-1,"y":4.6},{"p":"B3","s":"G","x":-0.9,"y":5.25},{"p":"B3","s":"G","x":-0.8,"y":5.75},{"p":"B3","s":"G","x":-0.7,"y":6.1},{"p":"B3","s":"G","x":-0.6,"y":6.4},{"p":"B3","s":"G","x":-0.5,"y":6.9},{"p":"B3","s":"G","x":-0.4,"y":6.9},{"p":"B3","s":"G","x":-0.3,"y":7.3},{"p":"B3","s":"G","x":-0.2,"y":7.3},{"p":"B3","s":"G","x":-0.1,"y":7.25},{"p":"B3","s":"G","x":0,"y":7.2},{"p":"B3","s":"G","x":0.1,"y":7.25},{"p":"B3","s":"G","x":0.2,"y":7.75},{"p":"B3","s":"G","x":0.3,"y":7.6},{"p":"B3","s":"G","x":0.4,"y":7.4},{"p":"B3","s":"G","x":0.5,"y":6.9},{"p":"B3","s":"G","x":0.6,"y":5.9},{"p":"B3","s":"G","x":0.7,"y":4.95},{"p":"B3","s":"G","x":0.8,"y":5.3},{"p":"B3","s":"G","x":0.9,"y":4.9},{"p":"B3","s":"G","x":1,"y":4.85},{"p":"B3","s":"G","x":1.1,"y":4.4},{"p":"B3","s":"G","x":1.2,"y":4.05},{"p":"B3","s":"G","x":1.3,"y":4.15},{"p":"B3","s":"G","x":1.4,"y":4.6},{"p":"B3","s":"G","x":1.5,"y":4.6},{"p":"B3","s":"G","x":1.6,"y":4.6},{"p":"B3","s":"G","x":1.7,"y":4.6},{"p":"B3","s":"G","x":1.8,"y":3.95},{"p":"B3","s":"G","x":1.9,"y":3.9},{"p":"B3","s":"G","x":2,"y":4.2}
]
},
"concat": [
{"width": 323, "height": 51, "data": {"values": [{"h": "Limb"}]}, "layer": [{"mark": {"type": "rect", "filled": false, "stroke": "#222", "strokeWidth": 2}, "encoding": {}}, {"mark": {"type": "text", "fontSize": 32, "baseline": "middle", "dy": 3}, "encoding": {"text": {"field": "h"}}}]},
{"width": 323, "height": 51, "data": {"values": [{"h": "Limb-GT"}]}, "layer": [{"mark": {"type": "rect", "filled": false, "stroke": "#222", "strokeWidth": 2}, "encoding": {}}, {"mark": {"type": "text", "fontSize": 32, "baseline": "middle", "dy": 3}, "encoding": {"text": {"field": "h"}}}]},
{"width": 323, "height": 51, "data": {"values": [{"h": "GT"}]}, "layer": [{"mark": {"type": "rect", "filled": false, "stroke": "#222", "strokeWidth": 2}, "encoding": {}}, {"mark": {"type": "text", "fontSize": 32, "baseline": "middle", "dy": 3}, "encoding": {"text": {"field": "h"}}}]},
{"width": 323, "height": 163,
 "title": {"text": "A", "orient": "left", "anchor": "end", "angle": 0, "align": "right", "baseline": "top", "fontSize": 37, "fontWeight": "bold", "color": "#000", "offset": -13, "dy": -5, "frame": "group"},
 "data": {"name": "lines"}, "transform": [{"filter": "datum.p == 'A1'"}],
 "layer": [
  {"mark": {"type": "line", "strokeWidth": 3.2, "interpolate": "monotone"},
   "encoding": {
    "x": {"field": "x", "type": "quantitative", "scale": {"domain": [-2.348, 2.333], "nice": false, "zero": false}, "axis": {"values": [-2, 0, 2], "labelExpr": "datum.value < 0 ? '\u20132.0' : datum.value > 0 ? '+2.0 Kb' : 'Center'", "labelAlign": {"condition": [{"test": "datum.value < 0", "value": "left"}, {"test": "datum.value > 0", "value": "right"}], "value": "center"}, "labelOffset": {"condition": [{"test": "datum.value < 0", "value": -24}, {"test": "datum.value > 0", "value": 24}], "value": 0}, "labelFontSize": 17, "labelPadding": 2, "domain": false, "grid": false, "tickSize": 6, "tickWidth": 1.5, "tickColor": "#222", "title": " ", "titleFontSize": 14, "titlePadding": 4}},
    "y": {"field": "y", "type": "quantitative", "scale": {"domain": [2.24, 21.03], "nice": false, "zero": false}, "axis": {"values": [5, 10, 15, 20], "ticks": false, "domain": false, "labelPadding": 12, "title": "H3K27ac", "titleFontSize": 31, "titlePadding": 28}},
    "stroke": {"field": "s", "type": "nominal", "scale": {"domain": ["G", "F", "H"], "range": ["#663366", "#99ccff", "#ff3333"]}, "legend": null}
   }},
  {"mark": {"type": "point", "opacity": 0},
   "encoding": {"y": {"field": "y", "type": "quantitative", "scale": {"domain": [2.24, 21.03], "nice": false, "zero": false}, "axis": {"orient": "left", "labels": false, "ticks": false, "domain": false, "grid": false, "offset": 93, "title": "Mouse", "titleFontSize": 31, "titlePadding": 0}}}}
 ],
 "resolve": {"scale": {"y": "independent"}}
},
{"width": 323, "height": 163, "data": {"name": "lines"}, "transform": [{"filter": "datum.p == 'A2'"}],
 "mark": {"type": "line", "strokeWidth": 3.2, "interpolate": "monotone"},
 "encoding": {
  "x": {"field": "x", "type": "quantitative", "scale": {"domain": [-2.348, 2.333], "nice": false, "zero": false}, "axis": {"values": [-2, 0, 2], "labelExpr": "datum.value < 0 ? '\u20132.0' : datum.value > 0 ? '+2.0 Kb' : 'Center'", "labelAlign": {"condition": [{"test": "datum.value < 0", "value": "left"}, {"test": "datum.value > 0", "value": "right"}], "value": "center"}, "labelOffset": {"condition": [{"test": "datum.value < 0", "value": -24}, {"test": "datum.value > 0", "value": 24}], "value": 0}, "labelFontSize": 17, "labelPadding": 2, "domain": false, "grid": false, "tickSize": 6, "tickWidth": 1.5, "tickColor": "#222", "title": " ", "titleFontSize": 14, "titlePadding": 4}},
  "y": {"field": "y", "type": "quantitative", "scale": {"domain": [2.24, 21.03], "nice": false, "zero": false}, "axis": {"values": [5, 10, 15, 20], "labels": false, "ticks": false, "domain": false, "title": null}},
  "stroke": {"field": "s", "type": "nominal", "scale": {"domain": ["G", "F", "H"], "range": ["#663366", "#99ccff", "#ff3333"]}, "legend": null}
 }},
{"width": 323, "height": 163, "data": {"name": "lines"}, "transform": [{"filter": "datum.p == 'A3'"}],
 "mark": {"type": "line", "strokeWidth": 3.2, "interpolate": "monotone"},
 "encoding": {
  "x": {"field": "x", "type": "quantitative", "scale": {"domain": [-2.348, 2.333], "nice": false, "zero": false}, "axis": {"values": [-2, 0, 2], "labelExpr": "datum.value < 0 ? '\u20132.0' : datum.value > 0 ? '+2.0 Kb' : 'Center'", "labelAlign": {"condition": [{"test": "datum.value < 0", "value": "left"}, {"test": "datum.value > 0", "value": "right"}], "value": "center"}, "labelOffset": {"condition": [{"test": "datum.value < 0", "value": -24}, {"test": "datum.value > 0", "value": 24}], "value": 0}, "labelFontSize": 17, "labelPadding": 2, "domain": false, "grid": false, "tickSize": 6, "tickWidth": 1.5, "tickColor": "#222", "title": " ", "titleFontSize": 14, "titlePadding": 4}},
  "y": {"field": "y", "type": "quantitative", "scale": {"domain": [2.24, 21.03], "nice": false, "zero": false}, "axis": {"values": [5, 10, 15, 20], "labels": false, "ticks": false, "domain": false, "title": null}},
  "stroke": {"field": "s", "type": "nominal", "scale": {"domain": ["G", "F", "H"], "range": ["#663366", "#99ccff", "#ff3333"]}, "legend": null}
 }},
{"width": 323, "height": 162,
 "title": {"text": "B", "orient": "left", "anchor": "end", "angle": 0, "align": "right", "baseline": "top", "fontSize": 37, "fontWeight": "bold", "color": "#000", "offset": -13, "dy": -5, "frame": "group"},
 "data": {"name": "lines"}, "transform": [{"filter": "datum.p == 'B1'"}],
 "layer": [
  {"mark": {"type": "line", "strokeWidth": 3.2, "interpolate": "monotone"},
   "encoding": {
    "x": {"field": "x", "type": "quantitative", "scale": {"domain": [-2.348, 2.333], "nice": false, "zero": false}, "axis": {"values": [-2, 0, 2], "labelExpr": "datum.value < 0 ? '\u20132.0' : datum.value > 0 ? '+2.0 Kb' : 'Center'", "labelAlign": {"condition": [{"test": "datum.value < 0", "value": "left"}, {"test": "datum.value > 0", "value": "right"}], "value": "center"}, "labelOffset": {"condition": [{"test": "datum.value < 0", "value": -24}, {"test": "datum.value > 0", "value": 24}], "value": 0}, "labelFontSize": 17, "labelPadding": 2, "domain": false, "grid": false, "tickSize": 6, "tickWidth": 1.5, "tickColor": "#222", "title": " ", "titleFontSize": 16, "titlePadding": 4}},
    "y": {"field": "y", "type": "quantitative", "scale": {"domain": [2.86, 19.1], "nice": false, "zero": false}, "axis": {"values": [5, 10, 15], "ticks": false, "domain": false, "labelPadding": 12, "title": "H3K27ac", "titleFontSize": 31, "titlePadding": 28}},
    "stroke": {"field": "s", "type": "nominal", "scale": {"domain": ["G", "F", "H"], "range": ["#663366", "#99ccff", "#ff3333"]}, "legend": null}
   }},
  {"mark": {"type": "point", "opacity": 0},
   "encoding": {"y": {"field": "y", "type": "quantitative", "scale": {"domain": [2.86, 19.1], "nice": false, "zero": false}, "axis": {"orient": "left", "labels": false, "ticks": false, "domain": false, "grid": false, "offset": 93, "title": "Anolis", "titleFontStyle": "italic", "titleFontSize": 31, "titlePadding": 0}}}}
 ],
 "resolve": {"scale": {"y": "independent"}}
},
{"width": 323, "height": 162, "data": {"name": "lines"}, "transform": [{"filter": "datum.p == 'B2'"}],
 "mark": {"type": "line", "strokeWidth": 3.2, "interpolate": "monotone"},
 "encoding": {
  "x": {"field": "x", "type": "quantitative", "scale": {"domain": [-2.348, 2.333], "nice": false, "zero": false}, "axis": {"values": [-2, 0, 2], "labelExpr": "datum.value < 0 ? '\u20132.0' : datum.value > 0 ? '+2.0 Kb' : 'Center'", "labelAlign": {"condition": [{"test": "datum.value < 0", "value": "left"}, {"test": "datum.value > 0", "value": "right"}], "value": "center"}, "labelOffset": {"condition": [{"test": "datum.value < 0", "value": -24}, {"test": "datum.value > 0", "value": 24}], "value": 0}, "labelFontSize": 17, "labelPadding": 2, "domain": false, "grid": false, "tickSize": 6, "tickWidth": 1.5, "tickColor": "#222", "title": " ", "titleFontSize": 16, "titlePadding": 4}},
  "y": {"field": "y", "type": "quantitative", "scale": {"domain": [2.86, 19.1], "nice": false, "zero": false}, "axis": {"values": [5, 10, 15], "labels": false, "ticks": false, "domain": false, "title": null}},
  "stroke": {"field": "s", "type": "nominal", "scale": {"domain": ["G", "F", "H"], "range": ["#663366", "#99ccff", "#ff3333"]}, "legend": null}
 }},
{"width": 323, "height": 162, "data": {"name": "lines"}, "transform": [{"filter": "datum.p == 'B3'"}],
 "mark": {"type": "line", "strokeWidth": 3.2, "interpolate": "monotone"},
 "encoding": {
  "x": {"field": "x", "type": "quantitative", "scale": {"domain": [-2.348, 2.333], "nice": false, "zero": false}, "axis": {"values": [-2, 0, 2], "labelExpr": "datum.value < 0 ? '\u20132.0' : datum.value > 0 ? '+2.0 Kb' : 'Center'", "labelAlign": {"condition": [{"test": "datum.value < 0", "value": "left"}, {"test": "datum.value > 0", "value": "right"}], "value": "center"}, "labelOffset": {"condition": [{"test": "datum.value < 0", "value": -24}, {"test": "datum.value > 0", "value": 24}], "value": 0}, "labelFontSize": 17, "labelPadding": 2, "domain": false, "grid": false, "tickSize": 6, "tickWidth": 1.5, "tickColor": "#222", "title": " ", "titleFontSize": 16, "titlePadding": 4}},
  "y": {"field": "y", "type": "quantitative", "scale": {"domain": [2.86, 19.1], "nice": false, "zero": false}, "axis": {"values": [5, 10, 15], "labels": false, "ticks": false, "domain": false, "title": null}},
  "stroke": {"field": "s", "type": "nominal", "scale": {"domain": ["G", "F", "H"], "range": ["#663366", "#99ccff", "#ff3333"]}, "legend": null}
 }},
{"width": 323, "height": 163,
 "title": {"text": "C", "orient": "left", "anchor": "end", "angle": 0, "align": "right", "baseline": "top", "fontSize": 37, "fontWeight": "bold", "color": "#000", "offset": -13, "dy": -5, "frame": "group"},
 "data": {"name": "bars"}, "transform": [{"filter": "datum.p == 'Limb'"}],
 "layer": [
  {"mark": {"type": "bar"},
   "encoding": {
    "x": {"field": "s", "type": "nominal", "sort": ["F", "H", "G"], "scale": {"paddingInner": 0.2, "paddingOuter": 0.2}, "axis": null},
    "y": {"field": "v", "type": "quantitative", "scale": {"domain": [-2.44, 49.3], "nice": false, "zero": false}, "axis": {"values": [0, 10, 20, 30, 40], "ticks": false, "domain": false, "labelPadding": 12, "title": "Overlap", "titleFontSize": 31, "titlePadding": 28}},
    "color": {"field": "s", "type": "nominal", "scale": {"domain": ["F", "H", "G"], "range": ["#99ccff", "#ff3333", "#663366"]},
      "legend": {"orient": "none", "legendX": -1, "legendY": 663, "direction": "horizontal", "title": "Chromatin source", "titleOrient": "left", "titleFontSize": 32, "titleLimit": 600, "titleFontWeight": "normal", "titleColor": "#000", "titlePadding": 31, "titleBaseline": "middle", "titleAnchor": "middle", "symbolType": "square", "symbolSize": 930, "symbolStrokeWidth": 0, "symbolOpacity": 1, "labelFontSize": 20, "labelColor": "#111", "labelOffset": 12, "labelLimit": 400, "columnPadding": 8, "gridAlign": "all", "padding": 0,
        "labelExpr": "datum.value == 'F' ? 'Forelimb' : datum.value == 'H' ? 'Hindlimb' : ['Genital Tubercle /', 'Hemiphallus']"}}
   }},
  {"mark": {"type": "point", "opacity": 0},
   "encoding": {"y": {"field": "v", "type": "quantitative", "scale": {"domain": [-2.44, 49.3], "nice": false, "zero": false}, "axis": {"orient": "left", "labels": false, "ticks": false, "domain": false, "grid": false, "offset": 93, "title": "Anolis", "titleFontStyle": "italic", "titleFontSize": 31, "titlePadding": 0}}}}
 ],
 "resolve": {"scale": {"y": "independent"}}
},
{"width": 323, "height": 163, "data": {"name": "bars"}, "transform": [{"filter": "datum.p == 'Limb-GT'"}],
 "mark": {"type": "bar"},
 "encoding": {
  "x": {"field": "s", "type": "nominal", "sort": ["F", "H", "G"], "scale": {"paddingInner": 0.2, "paddingOuter": 0.2}, "axis": null},
  "y": {"field": "v", "type": "quantitative", "scale": {"domain": [-2.44, 49.3], "nice": false, "zero": false}, "axis": {"values": [0, 10, 20, 30, 40], "labels": false, "ticks": false, "domain": false, "title": null}},
  "color": {"field": "s", "type": "nominal", "scale": {"domain": ["F", "H", "G"], "range": ["#99ccff", "#ff3333", "#663366"]}}
 }},
{"width": 323, "height": 163, "data": {"name": "bars"}, "transform": [{"filter": "datum.p == 'GT'"}],
 "mark": {"type": "bar"},
 "encoding": {
  "x": {"field": "s", "type": "nominal", "sort": ["F", "H", "G"], "scale": {"paddingInner": 0.2, "paddingOuter": 0.2}, "axis": null},
  "y": {"field": "v", "type": "quantitative", "scale": {"domain": [-2.44, 49.3], "nice": false, "zero": false}, "axis": {"values": [0, 10, 20, 30, 40], "labels": false, "ticks": false, "domain": false, "title": null}},
  "color": {"field": "s", "type": "nominal", "scale": {"domain": ["F", "H", "G"], "range": ["#99ccff", "#ff3333", "#663366"]}}
 }}
]
}
